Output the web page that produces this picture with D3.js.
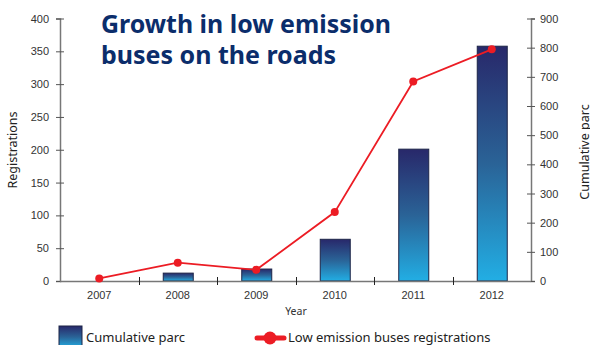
<!DOCTYPE html>
<html>
<head>
<meta charset="utf-8">
<script src="https://cdn.jsdelivr.net/npm/d3@7"></script>
<style>
  body { margin: 0; background: #fff; }
  svg { display: block; font-family: "Noto Sans", "DejaVu Sans", sans-serif; }
</style>
</head>
<body>
<div id="graph"></div>
<script>
// chart data
var years = ["2007", "2008", "2009", "2010", "2011", "2012"];
var cumulativeParc = [0, 27, 41, 143, 452, 805];
var registrations = [4, 28, 17, 105, 304, 353];
var leftTicks = [0, 50, 100, 150, 200, 250, 300, 350, 400];
var rightTicks = [0, 100, 200, 300, 400, 500, 600, 700, 800, 900];
var titleLines = ["Growth in low emission", "buses on the roads"];

var width = 590, height = 345;
var plotLeft = 60, plotRight = 531, plotTop = 18.5, plotBottom = 281;

var svg = d3.select("#graph").append("svg")
    .attr("width", width)
    .attr("height", height);

// gradient for bars
var defs = svg.append("defs");
var grad = defs.append("linearGradient")
    .attr("id", "barGrad")
    .attr("x1", 0).attr("y1", 0).attr("x2", 0).attr("y2", 1);
grad.append("stop").attr("offset", "0%").attr("stop-color", "#28286a");
grad.append("stop").attr("offset", "50%").attr("stop-color", "#2a6397");
grad.append("stop").attr("offset", "100%").attr("stop-color", "#22aee4");

// scales
var x = d3.scaleBand().domain(years).range([plotLeft, plotRight]).padding(0);
var yL = d3.scaleLinear().domain([0, 400]).range([plotBottom, plotTop]);
var yR = d3.scaleLinear().domain([0, 900]).range([plotBottom, plotTop]);

var barW = 30;

// bars (right axis)
svg.append("g").selectAll("rect")
    .data(years)
    .enter().append("rect")
    .attr("x", function(d) { return x(d) + x.bandwidth() / 2 - barW / 2 + 0.5; })
    .attr("y", function(d, i) { return yR(cumulativeParc[i]); })
    .attr("width", barW)
    .attr("height", function(d, i) { return plotBottom - yR(cumulativeParc[i]); })
    .attr("fill", "url(#barGrad)")
    .attr("stroke", function(d, i) { return cumulativeParc[i] > 0 ? "#1d2547" : "none"; })
    .attr("stroke-width", 1);

// left axis
var axL = svg.append("g")
    .attr("transform", "translate(" + plotLeft + ",0)")
    .call(d3.axisLeft(yL).tickValues(leftTicks).tickSize(4).tickPadding(7));
axL.selectAll(".tick line").attr("x2", 4).attr("x1", -4);

// right axis
var axR = svg.append("g")
    .attr("transform", "translate(" + plotRight + ",0)")
    .call(d3.axisRight(yR).tickValues(rightTicks).tickSize(4).tickPadding(5));
axR.selectAll(".tick line").attr("x1", -4).attr("x2", 4);

// bottom axis (labels only, ticks on band edges)
var axB = svg.append("g")
    .attr("transform", "translate(0," + plotBottom + ")")
    .call(d3.axisBottom(x).tickSize(0).tickPadding(10));
axB.select(".domain").attr("d", "M" + plotLeft + ",0.5H" + plotRight);

svg.append("g").selectAll("line")
    .data(years.slice(1))
    .enter().append("line")
    .attr("x1", function(d) { return Math.round(x(d)) + 0.5; })
    .attr("x2", function(d) { return Math.round(x(d)) + 0.5; })
    .attr("y1", plotBottom - 4)
    .attr("y2", plotBottom + 4)
    .attr("stroke", "#222")
    .attr("stroke-width", 1);

svg.selectAll(".domain").attr("stroke", "#777").attr("stroke-width", 1.5);
svg.selectAll(".tick line").attr("stroke", "#555");
svg.selectAll(".tick text").attr("fill", "#333").style("font-size", "11px");

// line (left axis)
var line = d3.line()
    .x(function(d, i) { return x(years[i]) + x.bandwidth() / 2; })
    .y(function(d) { return yL(d); });

svg.append("path")
    .datum(registrations)
    .attr("d", line)
    .attr("fill", "none")
    .attr("stroke", "#ec1c24")
    .attr("stroke-width", 1.8);

svg.append("g").selectAll("circle")
    .data(registrations)
    .enter().append("circle")
    .attr("cx", function(d, i) { return x(years[i]) + x.bandwidth() / 2; })
    .attr("cy", function(d) { return yL(d); })
    .attr("r", 4)
    .attr("fill", "#ec1c24");

// axis titles
svg.append("text")
    .attr("transform", "translate(17,150) rotate(-90)")
    .attr("text-anchor", "middle")
    .style("font-size", "12.5px")
    .attr("fill", "#222")
    .text("Registrations");

svg.append("text")
    .attr("transform", "translate(589,152) rotate(-90)")
    .attr("text-anchor", "middle")
    .style("font-size", "12.5px")
    .attr("fill", "#222")
    .text("Cumulative parc");

svg.append("text")
    .attr("x", 296)
    .attr("y", 315)
    .attr("text-anchor", "middle")
    .style("font-size", "10.5px")
    .attr("fill", "#333")
    .text("Year");

// title
svg.append("g").selectAll("text")
    .data(titleLines)
    .enter().append("text")
    .attr("x", 101)
    .attr("y", function(d, i) { return 33 + i * 31; })
    .style("font-size", "25px")
    .style("font-weight", "bold")
    .attr("fill", "#0b2d6b")
    .attr("textLength", function(d, i) { return i === 0 ? 290 : 235; })
    .attr("lengthAdjust", "spacingAndGlyphs")
    .text(function(d) { return d; });

// legend
svg.append("rect")
    .attr("x", 59).attr("y", 326)
    .attr("width", 23).attr("height", 22)
    .attr("fill", "url(#barGrad)")
    .attr("stroke", "#1d2547");

svg.append("text")
    .attr("x", 86).attr("y", 342)
    .style("font-size", "13px")
    .attr("fill", "#222")
    .text("Cumulative parc");

svg.append("line")
    .attr("x1", 257).attr("x2", 284)
    .attr("y1", 338).attr("y2", 338)
    .attr("stroke", "#ec1c24")
    .attr("stroke-width", 5)
    .attr("stroke-linecap", "round");

svg.append("circle")
    .attr("cx", 270).attr("cy", 338).attr("r", 6.5)
    .attr("fill", "#ec1c24");

svg.append("text")
    .attr("x", 288).attr("y", 342)
    .style("font-size", "13px")
    .attr("fill", "#222")
    .text("Low emission buses registrations");
</script>
</body>
</html>
